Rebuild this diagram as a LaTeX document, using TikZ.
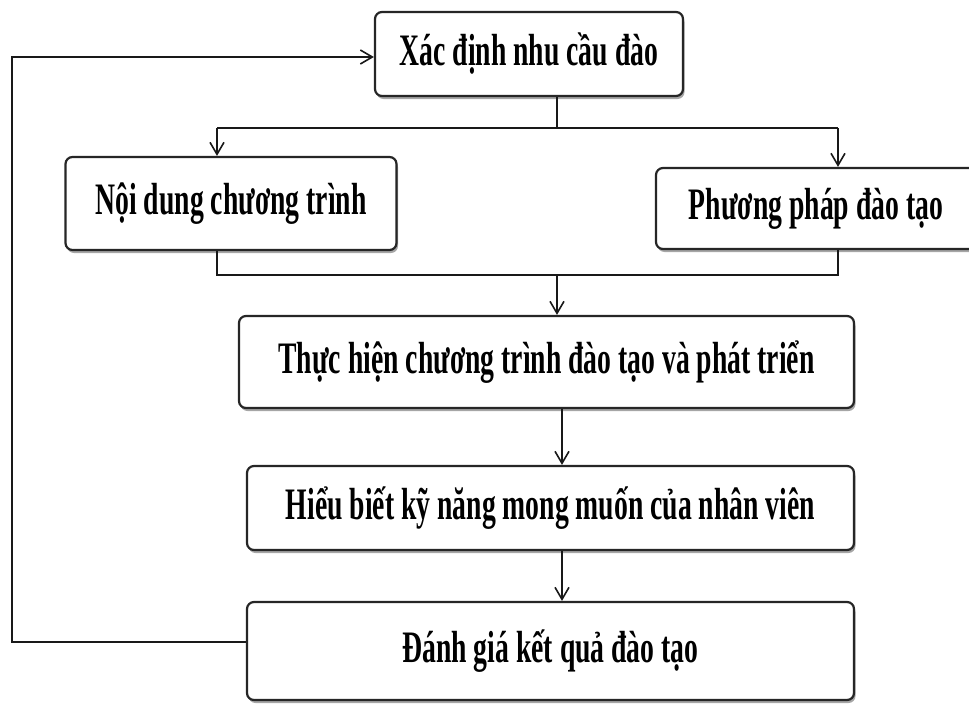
\documentclass[tikz,border=0pt]{standalone}
\usepackage{fontspec}
\newfontfamily\diafont[FakeStretch=0.615]{Liberation Serif}
\usetikzlibrary{arrows.meta,shadows}
\tikzset{
  stepbox/.style={draw=black!85, line width=2.2pt, rounded corners=7pt, fill=white,
    inner sep=0pt, align=center,
    font=\diafont\bfseries\fontsize{45}{48}\selectfont,
    drop shadow={shadow xshift=1.5pt, shadow yshift=-3pt, fill=black!35, opacity=1}},
  conn/.style={draw=black!90, line width=2.2pt},
  arr/.style={conn, -{Straight Barb[length=12pt, width=14pt, line width=1.6pt]}}
}
\begin{document}
\begin{tikzpicture}[x=1pt,y=-1pt]
\useasboundingbox (0,0) rectangle (969,704);
\node[stepbox, minimum width=308pt, minimum height=84pt] (top) at (529,54) {Xác định nhu cầu đào};
\node[stepbox, minimum width=331pt, minimum height=93pt] (noi) at (231,203.5) {Nội dung chương trình};
\node[stepbox, minimum width=320pt, minimum height=81pt] (pp) at (816,208.5) {Phương pháp đào tạo};
\node[stepbox, minimum width=615pt, minimum height=92pt] (th) at (546.5,362) {Thực hiện chương trình đào tạo và phát triển};
\node[stepbox, minimum width=607pt, minimum height=84pt] (hb) at (550.5,508) {Hiểu biết kỹ năng mong muốn của nhân viên};
\node[stepbox, minimum width=607pt, minimum height=98pt] (dg) at (550.5,651) {Đánh giá kết quả đào tạo};
\coordinate (s1) at (557,128);
\coordinate (jl) at (217,128);
\coordinate (jr) at (838,128);
\coordinate (ml) at (217,275);
\coordinate (mr) at (838,275);
\coordinate (mm) at (557,275);
\coordinate (c2) at (562,0);
\coordinate (fb) at (12,642);
\coordinate (ft) at (12,57);
\draw[conn] (s1 |- top.south) -- (s1);
\draw[conn] (jl) -- (jr);
\draw[arr] (jl) -- (jl |- noi.north);
\draw[arr] (jr) -- (jr |- pp.north);
\draw[conn] (ml |- noi.south) -- (ml) -- (mr) -- (mr |- pp.south);
\draw[arr] (mm) -- (mm |- th.north);
\draw[arr] (c2 |- th.south) -- (c2 |- hb.north);
\draw[arr] (c2 |- hb.south) -- (c2 |- dg.north);
\draw[arr] (fb -| dg.west) -- (fb) -- (ft) -- (ft -| top.west);
\end{tikzpicture}
\end{document}
